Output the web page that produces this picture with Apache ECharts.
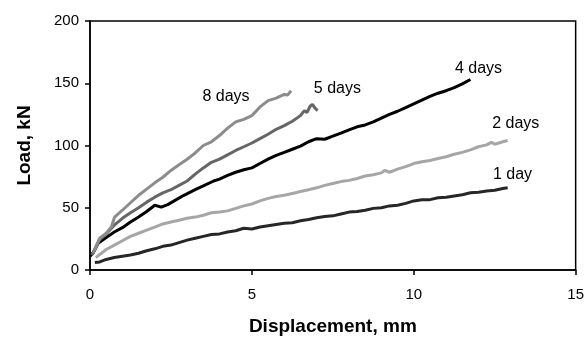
<!DOCTYPE html>
<html>
<head>
<meta charset="utf-8">
<script src="https://cdn.jsdelivr.net/npm/echarts@6/dist/echarts.min.js"></script>
<style>
  html, body { margin: 0; padding: 0; background: #fff; }
  #chart { width: 587px; height: 341px; }
</style>
</head>
<body>
<div id="chart"></div>
<script>
// displacement (mm) / load (kN)
const day1X = [0.15, 0.3, 0.5, 0.75, 1.0, 1.25, 1.5, 1.75, 2.0, 2.25, 2.5, 2.75, 3.0, 3.25, 3.5, 3.75, 4.0, 4.25, 4.5, 4.75, 5.0, 5.25, 5.5, 5.75, 6.0, 6.25, 6.5, 6.75, 7.0, 7.25, 7.5, 7.75, 8.0, 8.25, 8.5, 8.75, 9.0, 9.25, 9.5, 9.75, 10.0, 10.25, 10.5, 10.75, 11.0, 11.25, 11.5, 11.75, 12.0, 12.25, 12.5, 12.75, 12.9]
const day1Y = [6, 6.5, 8.5, 10, 11, 12, 13.5, 15.5, 17, 19, 20, 22, 24, 25.5, 27, 28.5, 29, 30.5, 31.5, 33.5, 33, 34.5, 35.5, 36.5, 37.5, 38, 39.5, 40.5, 42, 43, 43.5, 45, 46.5, 47, 48, 49.5, 50, 51.5, 52, 53.5, 55.5, 56.5, 56.5, 58, 58.5, 59.5, 60.5, 62, 62.5, 63.5, 64, 65.5, 66]

const day2X = [0.18, 0.3, 0.5, 0.75, 1.0, 1.25, 1.5, 1.75, 2.0, 2.25, 2.5, 2.75, 3.0, 3.25, 3.5, 3.75, 4.0, 4.25, 4.5, 4.75, 5.0, 5.25, 5.5, 5.75, 6.0, 6.25, 6.5, 6.75, 7.0, 7.25, 7.5, 7.75, 8.0, 8.25, 8.5, 8.75, 9.0, 9.1, 9.25, 9.5, 9.75, 10.0, 10.25, 10.5, 10.75, 11.0, 11.25, 11.5, 11.75, 12.0, 12.25, 12.4, 12.5, 12.75, 12.9]
const day2Y = [10, 12.5, 16.5, 20, 23.5, 27, 29.5, 32, 34.5, 37, 38.5, 40, 41.5, 42.5, 44, 46, 46.5, 47.5, 49.5, 51.5, 53, 55.5, 57.5, 59, 60, 61.5, 63, 64.5, 66, 68, 69.5, 71, 72, 73.5, 75.5, 76.5, 78, 80, 78.5, 81, 83, 85.5, 87, 88, 89.5, 91, 93, 94.5, 96.5, 99, 100.5, 102.5, 101, 103, 104]

const day4X = [0.0, 0.1, 0.2, 0.25, 0.5, 0.75, 1.0, 1.25, 1.5, 1.75, 2.0, 2.2, 2.4, 2.6, 2.9, 3.25, 3.5, 3.82, 4.0, 4.25, 4.5, 4.75, 5.0, 5.25, 5.5, 5.75, 6.0, 6.25, 6.5, 6.75, 7.0, 7.25, 7.5, 7.75, 8.0, 8.25, 8.5, 8.75, 9.0, 9.25, 9.5, 9.75, 10.0, 10.25, 10.5, 10.75, 11.0, 11.25, 11.5, 11.75]
const day4Y = [11, 14, 19, 21.5, 26, 30.5, 34, 38.5, 42.5, 47, 52, 50.5, 52.5, 55.5, 60, 64.5, 67.5, 71.5, 73, 76, 78.5, 80.5, 82, 85.5, 89, 92, 94.5, 97, 99.5, 103, 105.5, 105, 107.5, 110, 112.5, 115, 116.5, 119, 122, 125, 127.5, 130.5, 133.5, 136.5, 139.5, 142, 144, 146.5, 149.5, 153]

const day5X = [0.05, 0.15, 0.3, 0.5, 0.75, 1.0, 1.25, 1.5, 1.75, 2.0, 2.25, 2.5, 2.75, 3.0, 3.25, 3.5, 3.75, 4.0, 4.25, 4.5, 4.75, 5.0, 5.25, 5.5, 5.75, 6.0, 6.25, 6.5, 6.62, 6.7, 6.8, 6.87, 6.95, 7.03]
const day5Y = [12, 16, 24.5, 29, 36, 41.5, 46, 50, 54.5, 58.5, 62, 64.5, 68, 71.5, 77, 82, 86.5, 89, 92.5, 96, 99, 102, 105.5, 109, 113, 116, 119.5, 124, 128, 126.5, 131.5, 133, 130, 128]

const day8X = [0.1, 0.2, 0.3, 0.5, 0.66, 0.76, 1.0, 1.25, 1.5, 1.75, 2.0, 2.25, 2.5, 2.75, 3.0, 3.25, 3.5, 3.75, 4.0, 4.25, 4.5, 4.75, 5.0, 5.25, 5.5, 5.75, 6.0, 6.1, 6.21]
const day8Y = [13.5, 20, 25.5, 29.5, 34.5, 42.5, 48, 54, 60, 65, 70, 74.5, 80, 84.5, 89, 94, 100, 103, 108, 114, 119, 121, 124, 131, 136, 138, 141, 140.5, 144]

const seriesNames = ['1 day', '2 days', '4 days', '5 days', '8 days']
const seriesColors = ['#262626', '#a6a6a6', '#000000', '#666666', '#8c8c8c']
// where each curve's text label sits, in data units
const labelX = [13.05, 13.15, 12.0, 7.64, 4.2]
const labelY = [77, 117.3, 161.9, 146, 139.6]

const xTicks = [0, 5, 10, 15]
const yTicks = [0, 50, 100, 150, 200]

const curves = [
  [day1X, day1Y],
  [day2X, day2Y],
  [day4X, day4Y],
  [day5X, day5Y],
  [day8X, day8Y]
]

const font = '"Liberation Sans", Arial, sans-serif'

const chart = echarts.init(document.getElementById('chart'))

const series = curves.map((c, i) => ({
  name: seriesNames[i],
  type: 'line',
  showSymbol: false,
  animation: false,
  data: c[0].map((x, j) => [x, c[1][j]]),
  lineStyle: { color: seriesColors[i], width: 3 },
  itemStyle: { color: seriesColors[i] },
  markPoint: {
    symbol: 'rect',
    symbolSize: 1,
    itemStyle: { color: 'rgba(0,0,0,0)' },
    label: {
      show: true,
      position: 'inside',
      formatter: seriesNames[i],
      color: '#000',
      fontSize: 16,
      fontFamily: font
    },
    data: [{ coord: [labelX[i], labelY[i]] }]
  }
}))

const axisCommon = {
  type: 'value',
  nameLocation: 'middle',
  nameTextStyle: { color: '#000', fontSize: 19, fontWeight: 'bold', fontFamily: font },
  axisLine: { show: true, lineStyle: { color: '#000', width: 1.5 } },
  axisTick: { show: true, inside: false, length: 5, lineStyle: { color: '#000', width: 1.5 } },
  splitLine: { show: false },
  axisLabel: { color: '#000', fontSize: 15, fontFamily: font }
}

const option = {
  animation: false,
  grid: {
    left: 90,
    right: 6,
    top: 21,
    bottom: 67,
    show: true,
    borderColor: '#000',
    borderWidth: 1.5
  },
  xAxis: {
    ...axisCommon,
    name: 'Displacement, mm',
    nameGap: 47,
    min: xTicks[0],
    max: xTicks[xTicks.length - 1],
    interval: 5,
    axisLabel: { ...axisCommon.axisLabel, margin: 17 }
  },
  yAxis: {
    ...axisCommon,
    name: 'Load, kN',
    nameGap: 56,
    min: yTicks[0],
    max: yTicks[yTicks.length - 1],
    interval: 50,
    axisLabel: { ...axisCommon.axisLabel, margin: 11 }
  },
  series: series
}

chart.setOption(option)
</script>
</body>
</html>
